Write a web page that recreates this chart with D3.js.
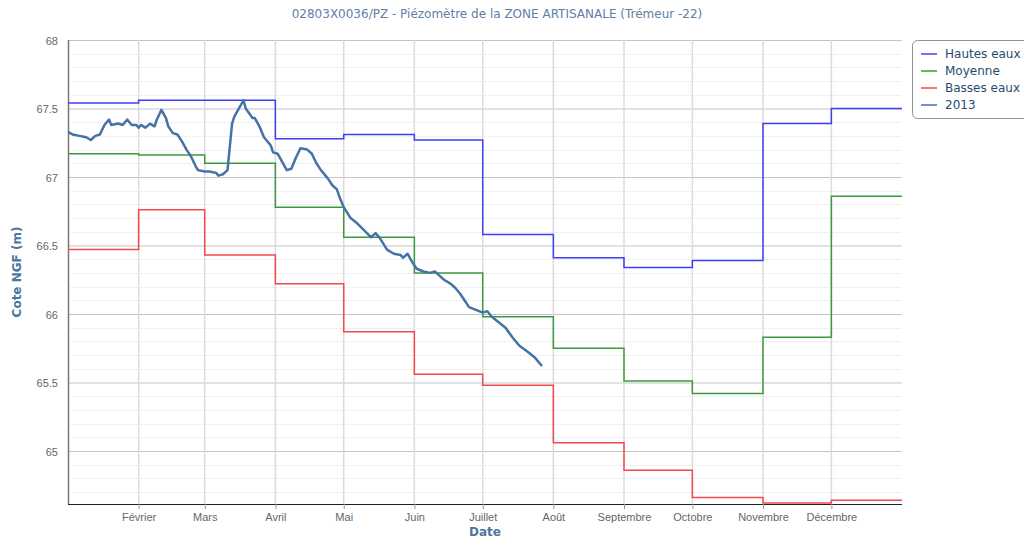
<!DOCTYPE html>
<html>
<head>
<meta charset="utf-8">
<script src="https://cdn.jsdelivr.net/npm/d3@7/dist/d3.min.js"></script>
<style>
  body { margin: 0; background: #fff; }
  svg { font-family: "DejaVu Sans", Verdana, sans-serif; display: block; }
</style>
</head>
<body>
<script>
'use strict';

// reference (leap) year used for the calendar axis
const refYear = 2012;

const monthStarts = ["01-01", "02-01", "03-01", "04-01", "05-01", "06-01",
  "07-01", "08-01", "09-01", "10-01", "11-01", "12-01"];
const monthLabels = ["Janvier", "Février", "Mars", "Avril", "Mai", "Juin",
  "Juillet", "Août", "Septembre", "Octobre", "Novembre", "Décembre"];

// monthly reference levels (m NGF)
const hautesEaux = [67.54, 67.56, 67.56, 67.28, 67.31, 67.27, 66.58, 66.41, 66.34, 66.39, 67.39, 67.50];
const moyenne    = [67.17, 67.16, 67.10, 66.78, 66.56, 66.30, 65.98, 65.75, 65.51, 65.42, 65.83, 66.86];
const bassesEaux = [66.47, 66.76, 66.43, 66.22, 65.87, 65.56, 65.48, 65.06, 64.86, 64.66, 64.62, 64.64];

// 2013 measurements
const dates2013 = ["01-01", "01-03", "01-06", "01-09", "01-11", "01-13", "01-15", "01-17", "01-19", "01-20",
  "01-23", "01-25", "01-27", "01-29", "01-31", "02-01", "02-02", "02-04", "02-06", "02-08",
  "02-09", "02-11", "02-13", "02-14", "02-16", "02-18", "02-20", "02-22", "02-24", "02-26",
  "02-27", "03-01", "03-03", "03-06", "03-07", "03-09", "03-11", "03-12", "03-13", "03-14",
  "03-16", "03-18", "03-19", "03-22", "03-23", "03-25", "03-27", "03-30", "03-31", "04-02",
  "04-04", "04-06", "04-08", "04-10", "04-12", "04-15", "04-17", "04-19", "04-21", "04-24",
  "04-26", "04-28", "04-29", "05-01", "05-04", "05-07", "05-10", "05-13", "05-15", "05-17",
  "05-20", "05-23", "05-26", "05-27", "05-29", "05-31", "06-02", "06-05", "06-08", "06-10",
  "06-12", "06-14", "06-17", "06-19", "06-21", "06-23", "06-25", "06-28", "07-01", "07-03",
  "07-05", "07-08", "07-11", "07-14", "07-17", "07-21", "07-24", "07-27"];
const values2013 = [67.33, 67.31, 67.30, 67.29, 67.27, 67.30, 67.31, 67.38, 67.42, 67.38,
  67.39, 67.38, 67.42, 67.38, 67.38, 67.36, 67.38, 67.36, 67.39, 67.37,
  67.42, 67.49, 67.43, 67.37, 67.32, 67.31, 67.26, 67.20, 67.15, 67.08,
  67.05, 67.04, 67.04, 67.03, 67.01, 67.02, 67.05, 67.22, 67.39, 67.44,
  67.50, 67.56, 67.50, 67.43, 67.43, 67.37, 67.29, 67.23, 67.18, 67.17,
  67.11, 67.05, 67.06, 67.14, 67.21, 67.20, 67.17, 67.10, 67.05, 66.99,
  66.94, 66.91, 66.86, 66.78, 66.70, 66.66, 66.61, 66.56, 66.59, 66.55,
  66.47, 66.44, 66.43, 66.41, 66.44, 66.38, 66.33, 66.31, 66.30, 66.31,
  66.28, 66.25, 66.22, 66.19, 66.15, 66.10, 66.05, 66.03, 66.01, 66.02,
  65.98, 65.94, 65.90, 65.83, 65.77, 65.72, 65.68, 65.62];

const yTicks = [65, 65.5, 66, 66.5, 67, 67.5, 68];

const parseDay = d3.timeParse("%Y-%m-%d");
const toDate = md => parseDay(refYear + "-" + md);

let svgContainer = d3.select("body").append("svg")
  .attr("width", 1024)
  .attr("height", 542);

const plot = { left: 68, right: 902, top: 40, bottom: 504 };

let xScale = d3.scaleTime()
  .domain([toDate("01-01"), parseDay((refYear + 1) + "-01-01")])
  .range([plot.left, plot.right]);

let yScale = d3.scaleLinear()
  .domain([64.613, 68])
  .range([plot.bottom, plot.top]);

// minor horizontal grid (every 0.1)
let minorTicks = d3.range(64.7, 68.0001, 0.1).map(v => Math.round(v * 10) / 10)
  .filter(v => Math.abs(v * 2 - Math.round(v * 2)) > 0.01);
svgContainer.append("g")
  .selectAll("line")
  .data(minorTicks)
  .enter().append("line")
    .attr("x1", plot.left).attr("x2", plot.right)
    .attr("y1", d => Math.round(yScale(d)) + 0.5)
    .attr("y2", d => Math.round(yScale(d)) + 0.5)
    .attr("stroke", "#e2e2e2")
    .attr("stroke-dasharray", "1,1");

// major horizontal grid + labels
let yAxis = d3.axisLeft(yScale)
  .tickValues(yTicks)
  .tickSize(-(plot.right - plot.left))
  .tickPadding(10)
  .tickFormat(d3.format("~g"));
let yG = svgContainer.append("g")
  .attr("transform", "translate(" + plot.left + ",0)")
  .call(yAxis);
yG.select(".domain").remove();
yG.selectAll(".tick line").attr("stroke", "#c4c4c4");
yG.selectAll(".tick text")
  .attr("fill", "#666")
  .attr("font-size", "11px")
  .attr("dy", "0.4em");

// vertical month grid
let monthDates = monthStarts.map(toDate);
svgContainer.append("g")
  .selectAll("line")
  .data(monthDates.slice(1))
  .enter().append("line")
    .attr("x1", d => xScale(d)).attr("x2", d => xScale(d))
    .attr("y1", plot.top).attr("y2", plot.bottom)
    .attr("stroke", "#dcdcdc")
    .attr("stroke-width", 1.5);

// x axis
let xAxis = d3.axisBottom(xScale)
  .tickValues(monthDates.slice(1))
  .tickSize(5)
  .tickPadding(4)
  .tickFormat(d => monthLabels[d.getMonth()]);
let xG = svgContainer.append("g")
  .attr("transform", "translate(0," + plot.bottom + ")")
  .call(xAxis);
xG.select(".domain").attr("stroke", "#222").attr("d", "M" + plot.left + ",0.5H" + plot.right);
xG.selectAll(".tick line").attr("stroke", "#999");
xG.selectAll(".tick text")
  .attr("fill", "#666")
  .attr("font-size", "11px");

// left axis line
svgContainer.append("line")
  .attr("x1", plot.left + 0.5).attr("x2", plot.left + 0.5)
  .attr("y1", plot.top).attr("y2", plot.bottom)
  .attr("stroke", "#777")
  .attr("stroke-width", 1.5);

// clip for series
svgContainer.append("clipPath").attr("id", "plotClip")
  .append("rect")
    .attr("x", plot.left).attr("y", plot.top - 2)
    .attr("width", plot.right - plot.left).attr("height", plot.bottom - plot.top + 2);

let stepLine = d3.line()
  .x(d => xScale(d.date))
  .y(d => yScale(d.value))
  .curve(d3.curveStepAfter);

function monthlySeries(values) {
  let pts = values.map((v, i) => ({ date: monthDates[i], value: v }));
  pts.push({ date: xScale.domain()[1], value: values[values.length - 1] });
  return pts;
}

let series = [
  { name: "Hautes eaux", values: hautesEaux, color: "#3f3ff5" },
  { name: "Moyenne", values: moyenne, color: "#3c9a3c" },
  { name: "Basses eaux", values: bassesEaux, color: "#f24a4a" }
];

let seriesG = svgContainer.append("g").attr("clip-path", "url(#plotClip)");
series.forEach(s => {
  seriesG.append("path")
    .datum(monthlySeries(s.values))
    .attr("d", stepLine)
    .attr("fill", "none")
    .attr("stroke", s.color)
    .attr("stroke-width", 1.5);
});

// 2013 line
let data2013 = dates2013.map((d, i) => ({ date: toDate(d), value: values2013[i] }));
seriesG.append("path")
  .datum(data2013)
  .attr("d", d3.line().x(d => xScale(d.date)).y(d => yScale(d.value)))
  .attr("fill", "none")
  .attr("stroke", "#4572a7")
  .attr("stroke-width", 2.5)
  .attr("stroke-linejoin", "round");

// title
svgContainer.append("text")
  .attr("x", 497).attr("y", 18)
  .attr("text-anchor", "middle")
  .attr("font-size", "12px")
  .attr("fill", "#6080a6")
  .text("02803X0036/PZ - Piézomètre de la ZONE ARTISANALE (Trémeur -22)");

// axis titles
svgContainer.append("text")
  .attr("transform", "translate(21,272) rotate(-90)")
  .attr("text-anchor", "middle")
  .attr("font-size", "12px")
  .attr("font-weight", "bold")
  .attr("fill", "#4d759e")
  .text("Cote NGF (m)");

svgContainer.append("text")
  .attr("x", 485).attr("y", 536)
  .attr("text-anchor", "middle")
  .attr("font-size", "12px")
  .attr("font-weight", "bold")
  .attr("fill", "#4d759e")
  .text("Date");

// legend
let legend = svgContainer.append("g").attr("transform", "translate(912,40)");
legend.append("rect")
  .attr("x", 0.5).attr("y", 0.5)
  .attr("width", 130).attr("height", 78)
  .attr("rx", 5)
  .attr("fill", "#fff")
  .attr("stroke", "#909090");

let legendItems = series.map(s => ({ name: s.name, color: s.color }))
  .concat([{ name: "2013", color: "#4572a7" }]);
legendItems.forEach((item, i) => {
  let cy = 14 + i * 17;
  legend.append("line")
    .attr("x1", 9).attr("x2", 25)
    .attr("y1", cy).attr("y2", cy)
    .attr("stroke", item.color)
    .attr("stroke-width", 2)
    .attr("opacity", 0.75);
  legend.append("text")
    .attr("x", 33).attr("y", cy + 4)
    .attr("font-size", "12px")
    .attr("fill", "#274b6d")
    .text(item.name);
});
</script>
</body>
</html>
